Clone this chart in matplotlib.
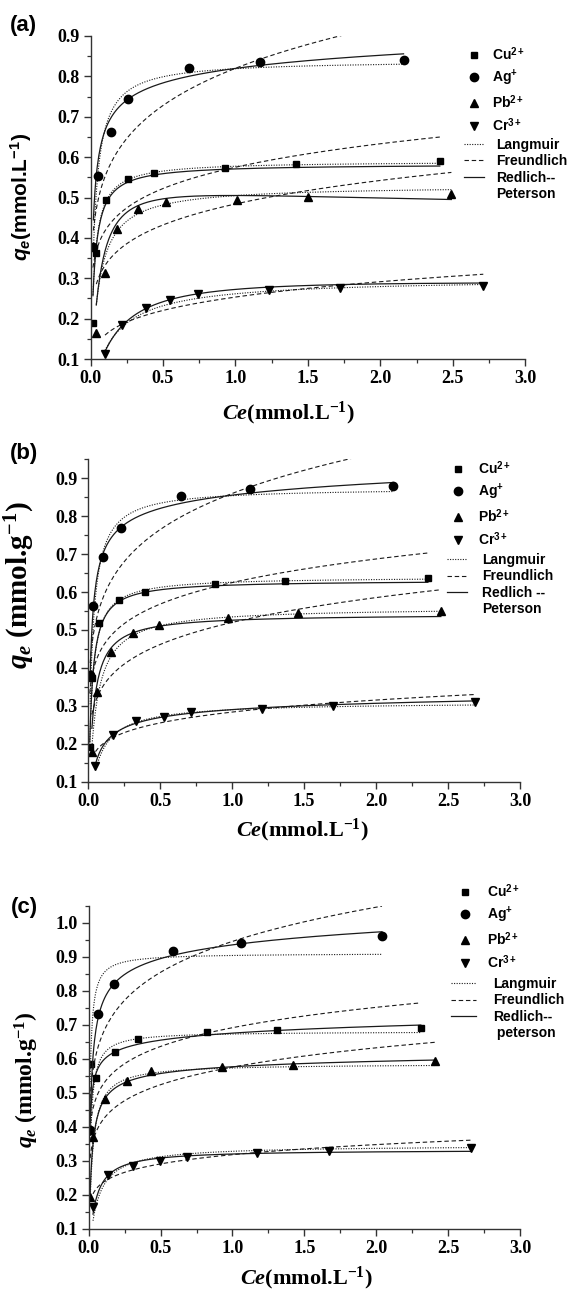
import numpy as np
import matplotlib
matplotlib.use("Agg")
import matplotlib.pyplot as plt
from matplotlib.lines import Line2D

# fonts: serif bold for axes, sans bold for legend / panel tags
plt.rcParams['mathtext.fontset'] = 'custom'
plt.rcParams['mathtext.rm'] = 'Liberation Serif:bold'
plt.rcParams['mathtext.it'] = 'Liberation Serif:italic:bold'
plt.rcParams['mathtext.bf'] = 'Liberation Serif:bold'
plt.rcParams['mathtext.sf'] = 'Liberation Sans:bold'
plt.rcParams['mathtext.cal'] = 'Liberation Sans:italic:bold'

# ---------------- data (Ce, qe) ----------------
# panel (a)
cu_a_ce = [0.017, 0.035, 0.11, 0.26, 0.44, 0.93, 1.42, 2.41]
cu_a_qe = [0.189, 0.363, 0.494, 0.546, 0.561, 0.572, 0.582, 0.590]
ag_a_ce = [0.02, 0.05, 0.14, 0.26, 0.68, 1.17, 2.16]
ag_a_qe = [0.378, 0.553, 0.663, 0.744, 0.821, 0.835, 0.840]
pb_a_ce = [0.04, 0.10, 0.18, 0.33, 0.52, 1.01, 1.50, 2.49]
pb_a_qe = [0.165, 0.314, 0.423, 0.472, 0.488, 0.494, 0.502, 0.509]
cr_a_ce = [0.10, 0.22, 0.38, 0.55, 0.74, 1.23, 1.72, 2.71]
cr_a_qe = [0.112, 0.183, 0.227, 0.247, 0.260, 0.271, 0.276, 0.282]

# panel (b)
cu_b_ce = [0.01, 0.025, 0.075, 0.216, 0.396, 0.88, 1.37, 2.36]
cu_b_qe = [0.192, 0.374, 0.519, 0.580, 0.599, 0.620, 0.630, 0.638]
ag_b_ce = [0.013, 0.033, 0.10, 0.226, 0.647, 1.126, 2.12]
ag_b_qe = [0.382, 0.563, 0.693, 0.770, 0.854, 0.872, 0.880]
pb_b_ce = [0.025, 0.063, 0.155, 0.31, 0.49, 0.97, 1.46, 2.45]
pb_b_qe = [0.178, 0.336, 0.443, 0.493, 0.514, 0.532, 0.544, 0.549]
cr_b_ce = [0.05, 0.17, 0.334, 0.524, 0.712, 1.21, 1.70, 2.69]
cr_b_qe = [0.142, 0.223, 0.261, 0.271, 0.283, 0.292, 0.300, 0.310]

# panel (c)
cu_c_ce = [0.013, 0.05, 0.18, 0.34, 0.82, 1.31, 2.31]
cu_c_qe = [0.585, 0.543, 0.620, 0.657, 0.678, 0.684, 0.690]
ag_c_ce = [0.01, 0.068, 0.176, 0.584, 1.058, 2.04]
ag_c_qe = [0.390, 0.731, 0.821, 0.916, 0.940, 0.960]
pb_c_ce = [0.01, 0.033, 0.113, 0.263, 0.436, 0.925, 1.42, 2.41]
pb_c_qe = [0.193, 0.369, 0.482, 0.534, 0.564, 0.575, 0.581, 0.592]
cr_c_ce = [0.03, 0.133, 0.309, 0.497, 0.682, 1.17, 1.67, 2.66]
cr_c_qe = [0.162, 0.256, 0.285, 0.300, 0.311, 0.322, 0.327, 0.336]

# fitted isotherm parameters (order: Cu, Ag, Pb, Cr)
# Langmuir (qm, KL), Freundlich (KF, 1/n), Redlich-Peterson (KR, aR, g)
lang_a = [(0.59, 46), (0.84, 39), (0.53, 19.9), (0.30, 6.8)]
freu_a = [(0.575, 0.139), (0.82, 0.172), (0.484, 0.164), (0.2534, 0.202)]
rp_a = [(27, 46.3, 1.0), (62.3, 75, 0.953), (9.14, 17.1, 1.06), (1.757, 5.45, 1.05)]

lang_b = [(0.64, 44.6), (0.875, 41), (0.56, 21), (0.31, 14.4)]
freu_b = [(0.625, 0.137), (0.86, 0.169), (0.52, 0.171), (0.2836, 0.153)]
rp_b = [(30.3, 48, 1.0), (61.6, 71, 0.9586), (17.3, 31.9, 1.0), (6.73, 22.2, 0.95)]

lang_c = [(0.68, 89), (0.91, 140), (0.585, 45.7), (0.345, 18.4)]
freu_c = [(0.691, 0.12), (0.945, 0.146), (0.575, 0.136), (0.3173, 0.129)]
rp_c = [(135, 199, 0.962), (84.6, 89.5, 0.951), (33.7, 57.5, 0.973), (8.3, 25, 1.0)]

ions = ['Cu$^{\\mathsf{2+}}$', 'Ag$^{\\mathsf{+}}$', 'Pb$^{\\mathsf{2+}}$', 'Cr$^{\\mathsf{3+}}$']
markers = ['s', 'o', '^', 'v']
msizes = [5, 6, 6, 6]

INK = '#1a1a1a'
DOT = (0, (1, 1.3))
DASH = (0, (4, 2.5))
LEG_FONT = {'family': 'Liberation Sans', 'weight': 'bold', 'size': 10}


def langmuir(c, qm, k):
    return qm * k * c / (1 + k * c)


def freundlich(c, kf, inv_n):
    return kf * c ** inv_n


def redlich(c, kr, ar, g):
    return kr * c / (1 + ar * c ** g)


fig = plt.figure(figsize=(5.68, 12.93), dpi=100)
W, H = 568.0, 1293.0


def fx(px):
    return px / W


def fy(py):
    return 1 - py / H


def panel(rect, series, lang, freu, rp, ylim, yticks, model_labels, leg):
    ax = fig.add_axes(rect)
    for i, (ce, qe) in enumerate(series):
        c = np.linspace(ce[0], ce[-1], 400)
        ax.plot(c, langmuir(c, *lang[i]), color=INK, lw=0.8, ls=DOT)
        ax.plot(c, freundlich(c, *freu[i]), color=INK, lw=0.8, ls=DASH)
        ax.plot(c, redlich(c, *rp[i]), color=INK, lw=0.9, ls='-')
        ax.plot(ce, qe, ls='none', marker=markers[i], ms=msizes[i], color='black')
    ax.set_xlim(0, 3.0)
    ax.set_ylim(*ylim)
    ax.set_xticks(np.arange(0, 3.01, 0.5))
    ax.set_xticks(np.arange(0.25, 3.0, 0.5), minor=True)
    ax.set_yticks(yticks)
    ax.set_yticks(np.arange(yticks[0] + 0.05, ylim[1] + 0.001, 0.1), minor=True)
    ax.set_xticklabels(['%.1f' % v for v in np.arange(0, 3.01, 0.5)])
    ax.set_yticklabels(['%.1f' % v for v in yticks])
    for s in ['top', 'right']:
        ax.spines[s].set_visible(False)
    for s in ['left', 'bottom']:
        ax.spines[s].set_color('#333333')
        ax.spines[s].set_linewidth(1.0)
    ax.tick_params(which='major', direction='out', length=5, width=1.0, color='#333333', pad=3)
    ax.tick_params(which='minor', direction='out', length=3, width=0.9, color='#333333')
    for lab in ax.get_xticklabels() + ax.get_yticklabels():
        lab.set_family('Liberation Serif')
        lab.set_weight('bold')
        lab.set_size(13)

    # legend: ions (markers) then the three fits
    (ix, iy, ipad), (lx, ly, llen, lpad) = leg
    ion_handles = [Line2D([], [], ls='none', marker=markers[i], ms=msizes[i], color='black')
                   for i in range(4)]
    leg1 = ax.legend(ion_handles, ions, loc='upper left', bbox_to_anchor=(fx(ix), fy(iy)),
                     bbox_transform=fig.transFigure, frameon=False, borderpad=0,
                     borderaxespad=0, handlelength=1.5, handletextpad=ipad,
                     labelspacing=0.38, prop=LEG_FONT)
    ax.add_artist(leg1)
    line_handles = [Line2D([], [], color=INK, lw=0.8, ls=DOT),
                    Line2D([], [], color=INK, lw=0.8, ls=DASH),
                    Line2D([], [], color=INK, lw=0.9, ls='-'),
                    Line2D([], [], color='none')]
    ax.legend(line_handles, model_labels, loc='upper left', bbox_to_anchor=(fx(lx), fy(ly)),
              bbox_transform=fig.transFigure, frameon=False, borderpad=0,
              borderaxespad=0, handlelength=llen, handletextpad=lpad,
              labelspacing=0.18, prop=LEG_FONT)
    return ax


# panel (a)
panel([fx(90.5), fy(359), fx(434.8), 323 / H],
      [(cu_a_ce, cu_a_qe), (ag_a_ce, ag_a_qe), (pb_a_ce, pb_a_qe), (cr_a_ce, cr_a_qe)],
      lang_a, freu_a, rp_a, (0.1, 0.9), np.arange(0.1, 0.91, 0.1),
      ['Langmuir', 'Freundlich', 'Redlich--', 'Peterson'],
      ((463.5, 45, 0.55), (464, 137.5, 1.44, 0.86)))
fig.text(fx(23), fy(26), '(a)', family='Liberation Sans', weight='bold', size=16,
         ha='center', va='center')
fig.text(fx(21), fy(197), r'$\mathcal{q}_{\mathcal{e}}$(mmol.L$^{\mathsf{-1}}$)',
         family='Liberation Sans', weight='bold', size=15, rotation=90,
         ha='center', va='center')
fig.text(fx(288), fy(413), r'$Ce$(mmol.L$^{\mathrm{-1}}$)', family='Liberation Serif',
         weight='bold', size=16, ha='center', va='center')

# panel (b)
panel([fx(88.3), fy(781.7), fx(431.7), 322.4 / H],
      [(cu_b_ce, cu_b_qe), (ag_b_ce, ag_b_qe), (pb_b_ce, pb_b_qe), (cr_b_ce, cr_b_qe)],
      lang_b, freu_b, rp_b, (0.1, 0.95), np.arange(0.1, 0.91, 0.1),
      ['Langmuir', 'Freundlich', 'Redlich --', 'Peterson'],
      ((447.5, 459, 0.68), (447, 553, 1.44, 1.08)))
fig.text(fx(24), fy(454), '(b)', family='Liberation Sans', weight='bold', size=16,
         ha='center', va='center')
fig.text(fx(20), fy(585), r'$q_e$ (mmol.g$^{\mathrm{-1}}$)', family='Liberation Serif',
         weight='bold', size=21, rotation=90, ha='center', va='center')
fig.text(fx(302), fy(830), r'$Ce$(mmol.L$^{\mathrm{-1}}$)', family='Liberation Serif',
         weight='bold', size=16, ha='center', va='center')

# panel (c)
panel([fx(88.7), fy(1228.5), fx(431.3), 322.8 / H],
      [(cu_c_ce, cu_c_qe), (ag_c_ce, ag_c_qe), (pb_c_ce, pb_c_qe), (cr_c_ce, cr_c_qe)],
      lang_c, freu_c, rp_c, (0.1, 1.05), np.arange(0.1, 1.01, 0.1),
      ['Langmuir', 'Freundlich', 'Redlich--', ' peterson'],
      ((454.5, 882, 0.83), (451, 977, 1.8, 1.22)))
fig.text(fx(24), fy(907), '(c)', family='Liberation Sans', weight='bold', size=16,
         ha='center', va='center')
fig.text(fx(27), fy(1080), r'$q_e$ (mmol.g$^{\mathrm{-1}}$)', family='Liberation Serif',
         weight='bold', size=17, rotation=90, ha='center', va='center')
fig.text(fx(306), fy(1278), r'$Ce$(mmol.L$^{\mathrm{-1}}$)', family='Liberation Serif',
         weight='bold', size=16, ha='center', va='center')

fig.savefig('out.png', dpi=100)
